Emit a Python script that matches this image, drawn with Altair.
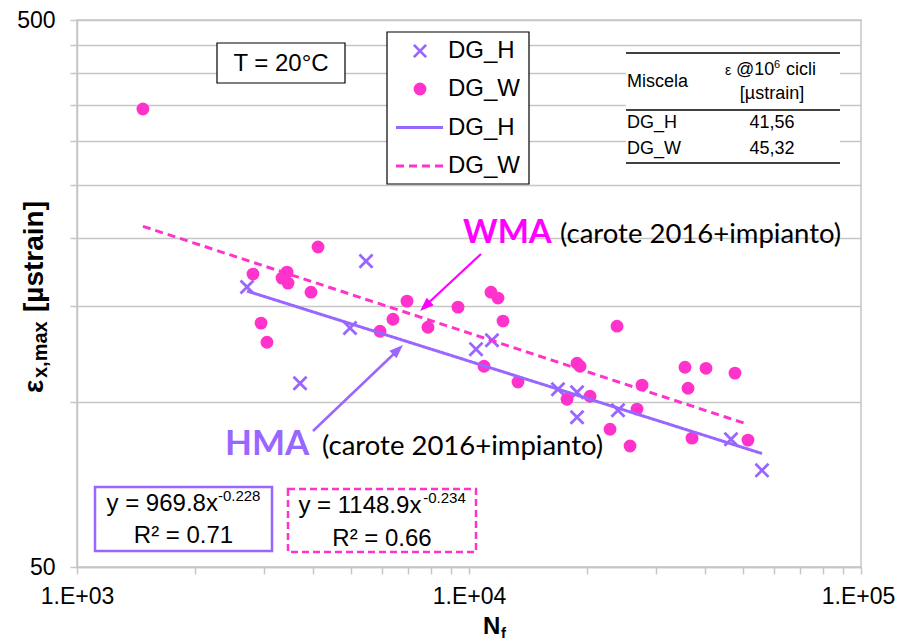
import altair as alt
import pandas as pd

# ---------------- data ----------------
mixes = ["DG_H", "DG_W"]

dgw_N = [1473, 2812, 2948, 3052, 3334, 3434, 3454, 3953, 4120, 5929, 6398, 6948,
         7859, 9375, 10922, 11378, 11858, 12212, 13335, 17783, 18863, 19200, 20357,
         22895, 23857, 25752, 26833, 27630, 35563, 36202, 37063, 40233, 47706, 51483]
dgw_eps = [343.7, 171.6, 139.6, 128.8, 168.7, 173.0, 165.2, 159.0, 192.3, 134.9, 141.9, 153.1,
           137.2, 149.3, 116.4, 159.0, 155.1, 140.8, 108.9, 101.3, 117.9, 116.4, 102.6,
           89.3, 137.8, 83.2, 97.2, 107.5, 115.9, 106.1, 86.0, 115.4, 113.1, 85.3]

dgh_N = [2715, 3707, 4971, 5461, 10420, 11445, 16866, 18863, 18863, 23993, 46594, 55898]
dgh_eps = [162.5, 108.4, 136.7, 181.2, 125.1, 129.9, 105.7, 104.3, 93.9, 96.7, 85.6, 75.1]

x_ticks = [1000, 2000, 3000, 4000, 5000, 6000, 7000, 8000, 9000,
           10000, 20000, 30000, 40000, 50000, 60000, 70000, 80000, 90000, 100000]
x_tick_labels = {1000: "1.E+03", 10000: "1.E+04", 100000: "1.E+05"}
y_ticks = [50, 100, 150, 200, 250, 300, 350, 400, 450, 500]
y_tick_labels = [50, 500]

table_rows = [("DG_H", "41,56"), ("DG_W", "45,32")]
fit_eq = [("y = 969.8x", "-0.228", "R² = 0.71"), ("y = 1148.9x", "-0.234", "R² = 0.66")]

# ---------------- styles ----------------
PURPLE = "#9966FF"
PINK = "#FF33CC"
MAGENTA = "#FF00FF"
GRID = "#C6C6C6"
AR = "Liberation Sans"
CAL = "Lato"

df = pd.DataFrame({
    "N": dgh_N + dgw_N,
    "eps": dgh_eps + dgw_eps,
    "mix": ["DG_H"] * len(dgh_N) + ["DG_W"] * len(dgw_N),
})
one = pd.DataFrame({"k": [0]})

x_expr = " : ".join(f"datum.value == {k} ? '{v}'" for k, v in x_tick_labels.items()) + " : ''"
y_expr = " || ".join(f"datum.value == {v}" for v in y_tick_labels) + " ? datum.value : ''"

x_enc = alt.X("N:Q", scale=alt.Scale(type="log", domain=[1000, 100000], nice=False),
              axis=alt.Axis(values=x_ticks, labelExpr=x_expr, grid=False, title=None,
                            tickSize=7, tickColor=GRID, tickWidth=1.5, domainColor=GRID, domainWidth=1.5,
                            labelFont=AR, labelFontSize=23, labelColor="black", labelPadding=11,
                            labelOffset={"expr": "datum.value == 100000 ? -3 : 0"},
                            labelOverlap=False, labelFlush=False, labelBound=False))
y_enc = alt.Y("eps:Q", scale=alt.Scale(type="log", domain=[50, 500], nice=False),
              axis=alt.Axis(values=y_ticks, labelExpr=y_expr, grid=True, gridColor=GRID, gridWidth=1.5,
                            title=None, tickSize=7, tickColor=GRID, tickWidth=1.5,
                            domainColor=GRID, domainWidth=1.5,
                            labelFont=AR, labelFontSize=23, labelColor="black", labelPadding=15,
                            labelOverlap=False, labelFlush=False, labelBound=False))

pts_h = alt.Chart(df).transform_filter("datum.mix == 'DG_H'").mark_point(
    shape="M-1,-1L1,1M-1,1L1,-1", filled=False, size=170, strokeWidth=2.8, color=PURPLE, opacity=1
).encode(x=x_enc, y=y_enc)

pts_w = alt.Chart(df).transform_filter("datum.mix == 'DG_W'").mark_circle(
    size=165, color=PINK, opacity=1
).encode(x=x_enc, y=y_enc)

trend = alt.Chart(df).transform_regression("N", "eps", method="pow", groupby=["mix"]).mark_line(
    strokeWidth=3
).encode(
    x="N:Q", y="eps:Q",
    color=alt.Color("mix:N", scale=alt.Scale(domain=mixes, range=[PURPLE, PINK]), legend=None),
    strokeDash=alt.StrokeDash("mix:N", scale=alt.Scale(domain=mixes, range=[[1, 0], [8, 5]]), legend=None),
)


def txt(s, x, y, size, font=AR, color="black", bold=False, align="left", baseline="alphabetic", angle=0):
    return alt.Chart(one).mark_text(
        text=s, font=font, fontSize=size, fontWeight="bold" if bold else "normal",
        color=color, align=align, baseline=baseline, angle=angle
    ).encode(x=alt.value(x), y=alt.value(y))


def box(x1, y1, x2, y2, stroke="black", sw=1.2, dash=None, fill="white"):
    kw = dict(fill=fill, stroke=stroke, strokeWidth=sw)
    if dash:
        kw["strokeDash"] = dash
    return alt.Chart(one).mark_rect(**kw).encode(
        x=alt.value(x1), x2=alt.value(x2), y=alt.value(y1), y2=alt.value(y2))


def rule(x1, y1, x2, y2, color, sw, dash=None):
    kw = dict(color=color, strokeWidth=sw)
    if dash:
        kw["strokeDash"] = dash
    return alt.Chart(one).mark_rule(**kw).encode(
        x=alt.value(x1), x2=alt.value(x2), y=alt.value(y1), y2=alt.value(y2))


def head(x, y, angle, color):
    return alt.Chart(one).mark_point(
        shape="M0,-1L0.6,0.6L-0.6,0.6Z", filled=True, size=300, color=color, opacity=1, angle=angle
    ).encode(x=alt.value(x), y=alt.value(y))


ann = []
# T box
ann += [box(140, 23, 268, 63), txt("T = 20°C", 204, 44, 24, baseline="middle", align="center")]
# legend
ann += [box(310, 12, 452, 164),
        alt.Chart(one).mark_point(shape="M-1,-1L1,1M-1,1L1,-1", filled=False, size=150,
                                  strokeWidth=2.8, color=PURPLE, opacity=1).encode(x=alt.value(343), y=alt.value(31)),
        alt.Chart(one).mark_circle(size=165, color=PINK, opacity=1).encode(x=alt.value(343), y=alt.value(69)),
        rule(319, 107.5, 366, 107.5, PURPLE, 3),
        rule(319, 146, 366, 146, PINK, 3, [8, 5])]
for i, lab in enumerate(mixes + mixes):
    ann.append(txt(lab, 371, [31, 69, 108, 146][i], 24, baseline="middle"))
# table
ann += [box(549, 33, 763, 143, stroke="white", sw=0),
        rule(549, 33, 763, 33, "black", 1.7),
        rule(549, 90, 763, 90, "black", 1.7),
        rule(549, 143, 763, 143, "black", 1.7),
        txt("Miscela", 550, 62, 18, baseline="middle"),
        txt("ε", 648, 51, 14, baseline="middle"),
        txt("@10", 659, 50, 18, baseline="middle"),
        txt("6", 697, 45, 11, baseline="middle"),
        txt("cicli", 709, 50, 18, baseline="middle"),
        txt("[µstrain]", 695, 74, 18, baseline="middle", align="center")]
for i, (m, v) in enumerate(table_rows):
    yy = [103, 129][i]
    ann += [txt(m, 550, yy, 18, baseline="middle"), txt(v, 695, yy, 18, baseline="middle", align="center")]
# WMA / HMA annotations
ann += [rule(404, 234, 347, 287, MAGENTA, 2.2), head(349.4, 285, 227, MAGENTA),
        txt("WMA", 386, 223, 33, font=CAL, color=MAGENTA, bold=True),
        txt("(carote 2016+impianto)", 483, 223, 27.5, font=CAL),
        rule(236, 411, 322, 329, PURPLE, 2.5), head(319.7, 331, 46.3, PURPLE),
        txt("HMA", 148, 435, 35, font=CAL, color=PURPLE, bold=True),
        txt("(carote 2016+impianto)", 245, 435, 27.5, font=CAL)]
# fit equations
ann += [box(18, 467, 195, 531, stroke=PURPLE, sw=2.5),
        box(211, 469, 399, 532, stroke=PINK, sw=2.5, dash=[7, 4])]
eq_geo = [(29.5, 140.9, 106.5, 491, 523), (221.4, 346.2, 305, 493, 526)]
for (main, sup, r2), (x0, xs, xc, yb, yr) in zip(fit_eq, eq_geo):
    ann += [txt(main, x0, yb, 24), txt(sup, xs, yb - 10, 15), txt(r2, xc, yr, 24, align="center")]
# axis titles
ann += [txt("ε", -34, 373, 28, bold=True, angle=270),
        txt("x,max", -30, 358, 20, bold=True, angle=270),
        txt("[µstrain]", -34, 292, 28, bold=True, angle=270),
        txt("N", 406, 614, 24, bold=True),
        txt("f", 424, 618, 15, bold=True)]

chart = alt.layer(pts_h, pts_w, trend, *ann).properties(
    width=784, height=547,
    autosize=alt.AutoSizeParams(type="none"),
    padding={"left": 69, "top": 12, "right": 34, "bottom": 74},
).configure_view(stroke=GRID, strokeWidth=1.5)

chart.save("out.html", embed_options={"renderer": "svg", "actions": False})
